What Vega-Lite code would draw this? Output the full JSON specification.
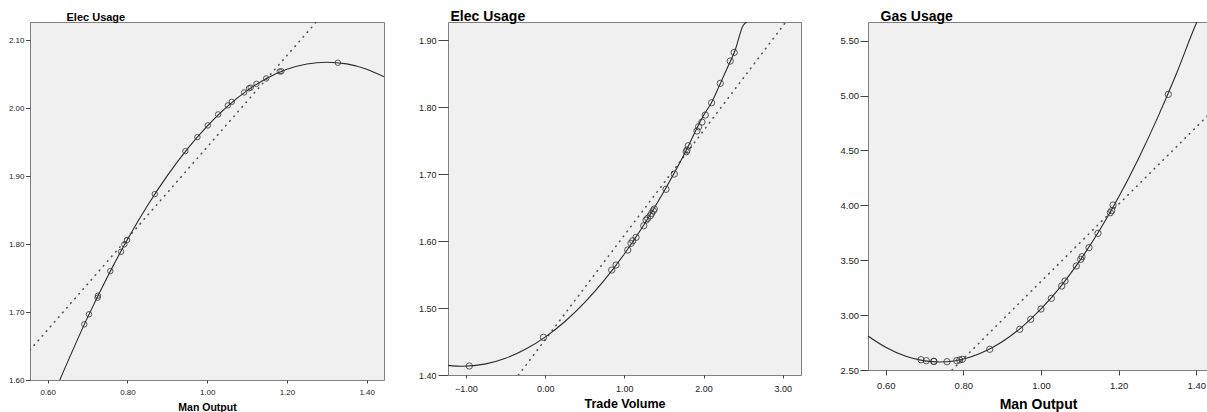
{
  "$schema": "https://vega.github.io/schema/vega-lite/v6.json",
  "background": "white",
  "padding": {"left": 0, "right": 0, "top": 9, "bottom": 0},
  "spacing": 10,
  "config": {
    "view": {"fill": "#f0f0f0", "stroke": "#7f7f7f", "strokeWidth": 1},
    "axis": {"domain": false, "grid": false, "tickColor": "#444444", "labelColor": "#222222", "labelFont": "Liberation Sans", "titleFont": "Liberation Sans", "titleFontWeight": "bold", "titleColor": "#000000", "format": ".2f"}
  },
  "datasets": {
    "p1pts": [
      {"x": 0.6918, "y": 1.6819}, {"x": 0.7036, "y": 1.6966}, {"x": 0.725, "y": 1.721}, {"x": 0.726, "y": 1.724},
      {"x": 0.757, "y": 1.7602}, {"x": 0.784, "y": 1.7886}, {"x": 0.7922, "y": 1.7995}, {"x": 0.799, "y": 1.8058},
      {"x": 0.8685, "y": 1.8734}, {"x": 0.9453, "y": 1.9366}, {"x": 0.9754, "y": 1.9572}, {"x": 1.0015, "y": 1.9744},
      {"x": 1.0274, "y": 1.9906}, {"x": 1.0517, "y": 2.0038}, {"x": 1.0617, "y": 2.0091}, {"x": 1.0926, "y": 2.0229},
      {"x": 1.105, "y": 2.029}, {"x": 1.109, "y": 2.03}, {"x": 1.1235, "y": 2.0356}, {"x": 1.1478, "y": 2.0435},
      {"x": 1.182, "y": 2.0538}, {"x": 1.186, "y": 2.054}, {"x": 1.3277, "y": 2.0666}
    ],
    "p1quad": [
      {"x": 0.6303, "y": 1.6}, {"x": 0.7, "y": 1.6921}, {"x": 0.75, "y": 1.752}, {"x": 0.8, "y": 1.8067},
      {"x": 0.85, "y": 1.8562}, {"x": 0.9, "y": 1.9005}, {"x": 0.95, "y": 1.9395}, {"x": 1.0, "y": 1.9734},
      {"x": 1.05, "y": 2.0021}, {"x": 1.1, "y": 2.0256}, {"x": 1.15, "y": 2.0438}, {"x": 1.2, "y": 2.0569},
      {"x": 1.25, "y": 2.0648}, {"x": 1.3, "y": 2.0674}, {"x": 1.35, "y": 2.0649}, {"x": 1.4, "y": 2.0571},
      {"x": 1.4434, "y": 2.046}
    ],
    "p1lin": [{"x": 0.5556, "y": 1.6441}, {"x": 1.2735, "y": 2.1265}],
    "p2pts": [
      {"x": -0.958, "y": 1.4134}, {"x": -0.021, "y": 1.4562}, {"x": 0.841, "y": 1.5567}, {"x": 0.895, "y": 1.5642},
      {"x": 1.043, "y": 1.5866}, {"x": 1.084, "y": 1.5966}, {"x": 1.106, "y": 1.6004}, {"x": 1.148, "y": 1.6055},
      {"x": 1.245, "y": 1.6228}, {"x": 1.274, "y": 1.6313}, {"x": 1.295, "y": 1.6339}, {"x": 1.328, "y": 1.6378},
      {"x": 1.345, "y": 1.6413}, {"x": 1.366, "y": 1.6452}, {"x": 1.378, "y": 1.6478}, {"x": 1.526, "y": 1.6772},
      {"x": 1.631, "y": 1.7}, {"x": 1.782, "y": 1.7333}, {"x": 1.791, "y": 1.7358}, {"x": 1.807, "y": 1.7422},
      {"x": 1.917, "y": 1.7642}, {"x": 1.938, "y": 1.7706}, {"x": 1.98, "y": 1.7776}, {"x": 2.022, "y": 1.7881},
      {"x": 2.102, "y": 1.8064}, {"x": 2.211, "y": 1.8354}, {"x": 2.337, "y": 1.8687}, {"x": 2.387, "y": 1.8816}
    ],
    "p2quad": [
      {"x": -1.227, "y": 1.4144}, {"x": -1.0466, "y": 1.4131}, {"x": -0.75, "y": 1.4166}, {"x": -0.5, "y": 1.425},
      {"x": -0.25, "y": 1.4385}, {"x": 0.0, "y": 1.4566}, {"x": 0.25, "y": 1.4799}, {"x": 0.5, "y": 1.5084},
      {"x": 0.75, "y": 1.542}, {"x": 1.0, "y": 1.5807}, {"x": 1.25, "y": 1.6247}, {"x": 1.5, "y": 1.6738},
      {"x": 1.75, "y": 1.728}, {"x": 2.0, "y": 1.7875}, {"x": 2.1, "y": 1.8066}, {"x": 2.2, "y": 1.832},
      {"x": 2.3, "y": 1.8582}, {"x": 2.4, "y": 1.8852}, {"x": 2.5, "y": 1.9219}, {"x": 2.548, "y": 1.927}
    ],
    "p2lin": [{"x": -0.337, "y": 1.4}, {"x": 3.039, "y": 1.927}],
    "p3pts": [
      {"x": 0.6909, "y": 2.594}, {"x": 0.7046, "y": 2.5847}, {"x": 0.7235, "y": 2.579}, {"x": 0.7244, "y": 2.578},
      {"x": 0.7579, "y": 2.5756}, {"x": 0.7829, "y": 2.5847}, {"x": 0.7906, "y": 2.591}, {"x": 0.7973, "y": 2.5974},
      {"x": 0.8679, "y": 2.6885}, {"x": 0.9451, "y": 2.8707}, {"x": 0.9735, "y": 2.9617}, {"x": 1.0, "y": 3.0556},
      {"x": 1.0266, "y": 3.153}, {"x": 1.0533, "y": 3.265}, {"x": 1.0618, "y": 3.3106}, {"x": 1.0909, "y": 3.447},
      {"x": 1.1022, "y": 3.508}, {"x": 1.1056, "y": 3.532}, {"x": 1.1236, "y": 3.614}, {"x": 1.1468, "y": 3.745},
      {"x": 1.1785, "y": 3.9326}, {"x": 1.182, "y": 3.951}, {"x": 1.1855, "y": 4.0027}, {"x": 1.3279, "y": 5.011}
    ],
    "p3quad": [
      {"x": 0.5544, "y": 2.81}, {"x": 0.6, "y": 2.707}, {"x": 0.65, "y": 2.6275}, {"x": 0.7, "y": 2.583},
      {"x": 0.738, "y": 2.573}, {"x": 0.78, "y": 2.585}, {"x": 0.85, "y": 2.661}, {"x": 0.9, "y": 2.758},
      {"x": 0.95, "y": 2.889}, {"x": 1.0, "y": 3.056}, {"x": 1.05, "y": 3.258}, {"x": 1.1, "y": 3.496},
      {"x": 1.15, "y": 3.768}, {"x": 1.2, "y": 4.076}, {"x": 1.25, "y": 4.4185}, {"x": 1.3, "y": 4.7965},
      {"x": 1.35, "y": 5.2098}, {"x": 1.4, "y": 5.658}, {"x": 1.4015, "y": 5.67}
    ],
    "p3lin": [{"x": 0.7708, "y": 2.5}, {"x": 1.4301, "y": 4.819}]
  },
  "hconcat": [
    {
      "width": 354,
      "height": 358,
      "encoding": {
        "x": {"field": "x", "type": "quantitative", "scale": {"domain": [0.5556, 1.4434], "nice": false, "zero": false},
          "axis": {"title": "Man Output", "values": [0.6, 0.8, 1.0, 1.2, 1.4], "tickSize": 3, "labelPadding": 5, "labelFontSize": 8, "titleFontSize": 10.5, "titleBaseline": "alphabetic", "titleY": 30}},
        "y": {"field": "y", "type": "quantitative", "scale": {"domain": [1.6, 2.1265], "nice": false, "zero": false},
          "axis": {"title": "Elec Usage", "values": [1.6, 1.7, 1.8, 1.9, 2.0, 2.1], "tickSize": 4.5, "labelPadding": 1.5, "labelFontSize": 8, "minExtent": 29, "maxExtent": 29, "titleFontSize": 11, "titleAngle": 0, "titleAlign": "left", "titleBaseline": "alphabetic", "titleX": 36, "titleY": -1.5}}
      },
      "layer": [
        {"data": {"name": "p1lin"}, "mark": {"type": "line", "clip": true, "color": "#555555", "strokeWidth": 1.6, "strokeDash": [0.6, 5.6], "strokeCap": "round"}},
        {"data": {"name": "p1quad"}, "mark": {"type": "line", "clip": true, "interpolate": "monotone", "color": "#2a2a2a", "strokeWidth": 1.1}},
        {"data": {"name": "p1pts"}, "mark": {"type": "point", "shape": "circle", "filled": false, "stroke": "#333333", "strokeWidth": 1, "size": 30, "opacity": 0.8}}
      ]
    },
    {
      "width": 353,
      "height": 353,
      "encoding": {
        "x": {"field": "x", "type": "quantitative", "scale": {"domain": [-1.227, 3.231], "nice": false, "zero": false},
          "axis": {"title": "Trade Volume", "values": [-1, 0, 1, 2, 3], "tickSize": 3, "labelPadding": 6, "labelFontSize": 9, "titleFontSize": 12.5, "titleBaseline": "alphabetic", "titleY": 32.7}},
        "y": {"field": "y", "type": "quantitative", "scale": {"domain": [1.4, 1.927], "nice": false, "zero": false},
          "axis": {"title": "Elec Usage", "values": [1.4, 1.5, 1.6, 1.7, 1.8, 1.9], "tickSize": 10, "labelPadding": 2, "labelFontSize": 9, "minExtent": 52, "maxExtent": 52, "titleFontSize": 14, "titleAngle": 0, "titleAlign": "left", "titleBaseline": "alphabetic", "titleX": 2, "titleY": -1.5}}
      },
      "layer": [
        {"data": {"name": "p2lin"}, "mark": {"type": "line", "clip": true, "color": "#555555", "strokeWidth": 1.6, "strokeDash": [0.6, 5.6], "strokeCap": "round"}},
        {"data": {"name": "p2quad"}, "mark": {"type": "line", "clip": true, "interpolate": "monotone", "color": "#2a2a2a", "strokeWidth": 1.1}},
        {"data": {"name": "p2pts"}, "mark": {"type": "point", "shape": "circle", "filled": false, "stroke": "#333333", "strokeWidth": 1, "size": 40, "opacity": 0.8}}
      ]
    },
    {
      "width": 340,
      "height": 348,
      "encoding": {
        "x": {"field": "x", "type": "quantitative", "scale": {"domain": [0.5544, 1.4301], "nice": false, "zero": false},
          "axis": {"title": "Man Output", "values": [0.6, 0.8, 1.0, 1.2, 1.4], "tickSize": 5, "labelPadding": 5, "labelFontSize": 9.5, "titleFontSize": 14, "titleBaseline": "alphabetic", "titleY": 38}},
        "y": {"field": "y", "type": "quantitative", "scale": {"domain": [2.5, 5.67], "nice": false, "zero": false},
          "axis": {"title": "Gas Usage", "values": [2.5, 3.0, 3.5, 4.0, 4.5, 5.0, 5.5], "tickSize": 8, "labelPadding": 1.5, "labelFontSize": 9.5, "minExtent": 55, "maxExtent": 55, "titleFontSize": 14, "titleAngle": 0, "titleAlign": "left", "titleBaseline": "alphabetic", "titleX": 12, "titleY": -1.5}}
      },
      "layer": [
        {"data": {"name": "p3lin"}, "mark": {"type": "line", "clip": true, "color": "#555555", "strokeWidth": 1.6, "strokeDash": [0.6, 5.6], "strokeCap": "round"}},
        {"data": {"name": "p3quad"}, "mark": {"type": "line", "clip": true, "interpolate": "monotone", "color": "#2a2a2a", "strokeWidth": 1.1}},
        {"data": {"name": "p3pts"}, "mark": {"type": "point", "shape": "circle", "filled": false, "stroke": "#333333", "strokeWidth": 1, "size": 40, "opacity": 0.8}}
      ]
    }
  ]
}
